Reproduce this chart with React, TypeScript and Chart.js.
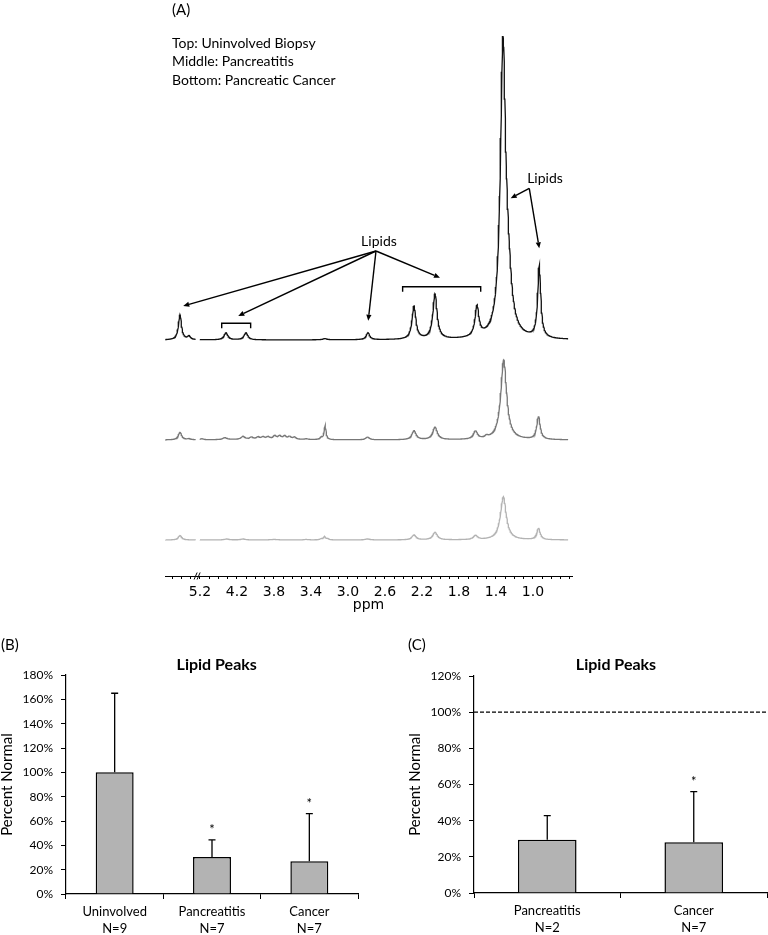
import React, { useEffect, useRef } from "react";
import { Chart, registerables } from "chart.js";

Chart.register(...registerables);

const FONT = "Lato, 'Open Sans', sans-serif";
const AXIS_FONT = "'DejaVu Sans', Verdana, sans-serif";

// ---------------- Panel A : 1H spectra ----------------
// x values are display ppm (the 5.x region is shifted by the axis break)
const PPM_TICK_LABELS = ["5.2", "4.2", "3.8", "3.4", "3.0", "2.6", "2.2", "1.8", "1.4", "1.0"];
const PPM_TICK_POS = [4.6, 4.2, 3.8, 3.4, 3.0, 2.6, 2.2, 1.8, 1.4, 1.0];
const AXIS_MIN = 0.578;
const AXIS_MAX = 4.978;
const TRACE_START = 4.975;
const TRACE_END = 0.62;
const BREAK_FROM = 4.6;
const BREAK_TO = 4.645;
const BREAK_MARK_PPM = 4.62;

const TOP_BASE = 236;
const MID_BASE = 136;
const BOT_BASE = 36;

const TOP_PEAK_PPM = [4.816, 4.719, 4.319, 4.103, 3.249, 2.784, 2.286, 2.059, 1.605, 1.324, 1.27, 0.932];
const TOP_PEAK_HEIGHT = [25, 3.5, 7, 7, 1.2, 7, 33, 45, 30, 285, 45, 72];
const TOP_PEAK_WIDTH = [0.02, 0.02, 0.025, 0.025, 0.03, 0.022, 0.025, 0.027, 0.025, 0.034, 0.045, 0.02];

const MID_PEAK_PPM = [4.816, 4.719, 4.58, 4.33, 4.135, 4.045, 3.973, 3.919, 3.865, 3.793, 3.739, 3.685, 3.632, 3.578, 3.452, 3.29, 3.247, 2.789, 2.286, 2.059, 1.622, 1.503, 1.316, 0.94, 3.84];
const MID_PEAK_HEIGHT = [7.5, 1, 1, 2, 3, 2, 2, 2, 2, 3, 3, 3, 2.5, 2, 0.7, 2, 14, 2.7, 9, 12.5, 8, 2, 80, 23, 1];
const MID_PEAK_WIDTH = [0.022, 0.02, 0.02, 0.03, 0.025, 0.02, 0.02, 0.02, 0.02, 0.02, 0.02, 0.02, 0.02, 0.02, 0.02, 0.015, 0.012, 0.025, 0.027, 0.03, 0.027, 0.02, 0.038, 0.022, 0.3];

const BOT_PEAK_PPM = [4.816, 4.311, 4.135, 3.8, 3.452, 3.29, 3.254, 3.218, 2.789, 2.286, 2.059, 1.622, 1.32, 0.94];
const BOT_PEAK_HEIGHT = [4.5, 1, 1, 0.5, 0.5, 1, 3, 1.2, 1, 5, 7.5, 4.2, 43, 11.5];
const BOT_PEAK_WIDTH = [0.022, 0.03, 0.03, 0.05, 0.03, 0.02, 0.015, 0.015, 0.03, 0.027, 0.03, 0.027, 0.038, 0.022];

const LEGEND_LINES = ["Top: Uninvolved Biopsy", "Middle: Pancreatitis", "Bottom: Pancreatic Cancer"];

const LIPID_LABEL_PPM = [2.665, 0.87];
const LIPID_LABEL_Y = [335, 398];
const ARROW_FROM_PPM = [2.697, 2.697, 2.697, 2.697, 1.04, 1.04];
const ARROW_FROM_Y = [325, 325, 325, 325, 387.7, 387.7];
const ARROW_TO_PPM = [4.781, 4.186, 2.781, 2.005, 1.241, 0.932];
const ARROW_TO_Y = [270, 260, 255.3, 298.3, 377.7, 327.7];
const BRACKET_FROM_PPM = [4.365, 2.409];
const BRACKET_TO_PPM = [4.052, 1.565];
const BRACKET_Y = [252.7, 289.3];

// ---------------- Panel B ----------------
const B_CATEGORIES = [["Uninvolved", "N=9"], ["Pancreatitis", "N=7"], ["Cancer", "N=7"]];
const B_VALUES = [100, 30.5, 27];
const B_ERRORS = [65, 14, 39];
const B_SIG = [false, true, true];
const B_Y_MAX = 180;

// ---------------- Panel C ----------------
const C_CATEGORIES = [["Pancreatitis", "N=2"], ["Cancer", "N=7"]];
const C_VALUES = [29.4, 28.1];
const C_ERRORS = [13.4, 28];
const C_SIG = [false, true];
const C_Y_MAX = 120;
const C_REFERENCE = 100;

const Y_STEP = 20;

function spectrum(base: number, pos: number[], h: number[], w: number[]) {
  const pts: { x: number; y: number | null }[] = [];
  const step = 0.004;
  for (let u = TRACE_END; u <= TRACE_START + 1e-9; u += step) {
    if (u > BREAK_FROM && u < BREAK_TO) {
      pts.push({ x: u, y: null });
      continue;
    }
    let y = base;
    for (let i = 0; i < pos.length; i++) {
      const d = (u - pos[i]) / w[i];
      y += h[i] / (1 + d * d);
    }
    pts.push({ x: u, y });
  }
  return pts;
}

function drawArrow(ctx: CanvasRenderingContext2D, x1: number, y1: number, x2: number, y2: number) {
  const a = Math.atan2(y2 - y1, x2 - x1);
  const len = 6;
  const hw = 2.6;
  const bx = x2 - len * Math.cos(a);
  const by = y2 - len * Math.sin(a);
  ctx.beginPath();
  ctx.moveTo(x1, y1);
  ctx.lineTo(bx, by);
  ctx.stroke();
  ctx.beginPath();
  ctx.moveTo(x2, y2);
  ctx.lineTo(bx + hw * Math.sin(a), by - hw * Math.cos(a));
  ctx.lineTo(bx - hw * Math.sin(a), by + hw * Math.cos(a));
  ctx.closePath();
  ctx.fill();
}

const spectrumDecor = {
  id: "spectrumDecor",
  afterDraw(chart: any) {
    const ctx: CanvasRenderingContext2D = chart.ctx;
    const xs = chart.scales.x;
    const ys = chart.scales.y;
    const X = (v: number) => xs.getPixelForValue(v);
    const Y = (v: number) => ys.getPixelForValue(v);
    ctx.save();
    ctx.fillStyle = "#000";
    ctx.strokeStyle = "#000";
    ctx.textBaseline = "middle";
    ctx.textAlign = "left";
    ctx.font = `15px ${FONT}`;
    ctx.fillText("(A)", 172, 10);
    ctx.font = `14px ${FONT}`;
    LEGEND_LINES.forEach((t, i) => ctx.fillText(t, 172, 43 + i * 18.7));
    // Lipids labels
    ctx.textAlign = "center";
    LIPID_LABEL_PPM.forEach((p, i) => ctx.fillText("Lipids", X(p), Y(LIPID_LABEL_Y[i])));
    ctx.lineWidth = 1.4;
    ARROW_FROM_PPM.forEach((p, i) =>
      drawArrow(ctx, X(p), Y(ARROW_FROM_Y[i]), X(ARROW_TO_PPM[i]), Y(ARROW_TO_Y[i]))
    );
    // brackets
    BRACKET_FROM_PPM.forEach((p, i) => {
      const xa = X(p);
      const xb = X(BRACKET_TO_PPM[i]);
      const y = Y(BRACKET_Y[i]);
      ctx.beginPath();
      ctx.moveTo(xa, y + 5);
      ctx.lineTo(xa, y);
      ctx.lineTo(xb, y);
      ctx.lineTo(xb, y + 5);
      ctx.stroke();
    });
    // axis break mark
    const bx = X(BREAK_MARK_PPM);
    const by = ys.bottom;
    ctx.lineWidth = 1;
    ctx.beginPath();
    ctx.moveTo(bx - 4, by + 3.5);
    ctx.lineTo(bx - 1, by - 3.5);
    ctx.moveTo(bx - 1, by + 3.5);
    ctx.lineTo(bx + 2, by - 3.5);
    ctx.stroke();
    ctx.restore();
  },
};

function textPlugin(items: { text: string; x: number; y: number; font: string; align: CanvasTextAlign }[]) {
  return {
    id: "texts",
    afterDraw(chart: any) {
      const ctx: CanvasRenderingContext2D = chart.ctx;
      ctx.save();
      ctx.fillStyle = "#000";
      ctx.textBaseline = "middle";
      items.forEach((it) => {
        ctx.font = it.font;
        ctx.textAlign = it.align;
        ctx.fillText(it.text, it.x, it.y);
      });
      ctx.restore();
    },
  };
}

function errorBarPlugin(errors: number[], sig: boolean[]) {
  return {
    id: "errbars",
    afterDatasetsDraw(chart: any) {
      const ctx: CanvasRenderingContext2D = chart.ctx;
      const meta = chart.getDatasetMeta(0);
      const ys = chart.scales.y;
      const vals = chart.data.datasets[0].data as number[];
      ctx.save();
      ctx.strokeStyle = "#000";
      ctx.fillStyle = "#000";
      ctx.lineWidth = 1.3;
      meta.data.forEach((bar: any, i: number) => {
        const x = bar.x;
        const y0 = ys.getPixelForValue(vals[i]);
        const y1 = ys.getPixelForValue(vals[i] + errors[i]);
        ctx.beginPath();
        ctx.moveTo(x, y0);
        ctx.lineTo(x, y1);
        ctx.moveTo(x - 3.5, y1);
        ctx.lineTo(x + 3.5, y1);
        ctx.stroke();
        if (sig[i]) {
          ctx.font = `13px ${FONT}`;
          ctx.textAlign = "center";
          ctx.textBaseline = "alphabetic";
          ctx.fillText("*", x, y1 - 6);
        }
      });
      ctx.restore();
    },
  };
}

function referencePlugin(value: number) {
  return {
    id: "refline",
    afterDatasetsDraw(chart: any) {
      const ctx: CanvasRenderingContext2D = chart.ctx;
      const ys = chart.scales.y;
      const y = ys.getPixelForValue(value);
      ctx.save();
      ctx.strokeStyle = "#000";
      ctx.lineWidth = 1.2;
      ctx.setLineDash([4, 2]);
      ctx.beginPath();
      ctx.moveTo(chart.chartArea.left, y);
      ctx.lineTo(chart.chartArea.right, y);
      ctx.stroke();
      ctx.restore();
    },
  };
}

function spectrumConfig(): any {
  const minorTicks: number[] = [];
  for (let k = 6; k <= 49; k++) minorTicks.push(k / 10);
  const labelFor = (v: number) => {
    const i = PPM_TICK_POS.findIndex((p) => Math.abs(p - v) < 1e-6);
    return i >= 0 ? PPM_TICK_LABELS[i] : "";
  };
  const ds = (data: any[], color: string) => ({
    data,
    borderColor: color,
    borderWidth: 1.3,
    pointRadius: 0,
    tension: 0,
    fill: false,
    spanGaps: false,
  });
  return {
    type: "line",
    data: {
      datasets: [
        ds(spectrum(TOP_BASE, TOP_PEAK_PPM, TOP_PEAK_HEIGHT, TOP_PEAK_WIDTH), "#111111"),
        ds(spectrum(MID_BASE, MID_PEAK_PPM, MID_PEAK_HEIGHT, MID_PEAK_WIDTH), "#777777"),
        ds(spectrum(BOT_BASE, BOT_PEAK_PPM, BOT_PEAK_HEIGHT, BOT_PEAK_WIDTH), "#b3b3b3"),
      ],
    },
    options: {
      responsive: false,
      animation: false,
      devicePixelRatio: 1,
      layout: { padding: { left: 165, right: 196, top: 26, bottom: 0 } },
      plugins: { legend: { display: false }, tooltip: { enabled: false } },
      scales: {
        x: {
          type: "linear",
          reverse: true,
          min: AXIS_MIN,
          max: AXIS_MAX,
          afterBuildTicks: (s: any) => {
            s.ticks = minorTicks.map((v) => ({ value: v }));
          },
          afterFit: (s: any) => {
            s.height = 44;
          },
          ticks: {
            autoSkip: false,
            maxRotation: 0,
            color: "#000",
            font: { family: AXIS_FONT, size: 14 },
            padding: 5,
            callback: (v: number) => labelFor(v),
          },
          grid: { display: true, drawOnChartArea: false, drawTicks: true, tickLength: 3, color: "#000", lineWidth: 1 },
          border: { display: true, color: "#000", width: 1 },
          title: {
            display: true,
            text: "ppm",
            color: "#000",
            font: { family: AXIS_FONT, size: 14 },
            padding: { top: 0, bottom: 6 },
          },
        },
        y: { display: false, min: 0, max: 550 },
      },
    },
    plugins: [spectrumDecor],
  };
}

function barConfig(
  categories: string[][],
  values: number[],
  errors: number[],
  sig: boolean[],
  yMax: number,
  barPct: number,
  padLeft: number,
  padRight: number,
  padTop: number,
  xHeight: number,
  texts: any[],
  extra: any[]
): any {
  return {
    type: "bar",
    data: {
      labels: categories,
      datasets: [
        {
          data: values,
          backgroundColor: "#b3b3b3",
          borderColor: "#000",
          borderWidth: 1.5,
          barPercentage: barPct,
          categoryPercentage: 1,
        },
      ],
    },
    options: {
      responsive: false,
      animation: false,
      devicePixelRatio: 1,
      layout: { padding: { left: padLeft, right: padRight, top: padTop, bottom: 0 } },
      plugins: { legend: { display: false }, tooltip: { enabled: false } },
      scales: {
        x: {
          grid: { display: true, drawOnChartArea: false, drawTicks: true, tickLength: 5, color: "#000", lineWidth: 1 },
          border: { display: true, color: "#000", width: 1.2 },
          ticks: {
            color: "#000",
            font: { family: FONT, size: 13, lineHeight: 1.25 },
            padding: 5,
            maxRotation: 0,
            autoSkip: false,
          },
          afterFit: (s: any) => {
            s.height = xHeight;
          },
        },
        y: {
          min: 0,
          max: yMax,
          ticks: {
            stepSize: Y_STEP,
            callback: (v: number) => v + "%",
            color: "#000",
            font: { family: FONT, size: 12 },
            padding: 8,
          },
          grid: { display: true, drawOnChartArea: false, drawTicks: true, tickLength: 5, color: "#000", lineWidth: 1 },
          border: { display: true, color: "#000", width: 1.2 },
          title: {
            display: true,
            text: "Percent Normal",
            color: "#000",
            font: { family: FONT, size: 15, lineHeight: 1 },
            padding: 0,
          },
          afterFit: (s: any) => {
            s.width = 66;
          },
        },
      },
    },
    plugins: [errorBarPlugin(errors, sig), textPlugin(texts), ...extra],
  };
}

function ChartCanvas(props: { left: number; top: number; width: number; height: number; make: () => any }) {
  const ref = useRef<HTMLCanvasElement | null>(null);
  useEffect(() => {
    const chart = new Chart(ref.current as HTMLCanvasElement, props.make());
    return () => chart.destroy();
  }, []);
  return (
    <canvas
      ref={ref}
      width={props.width}
      height={props.height}
      style={{ position: "absolute", left: props.left, top: props.top, width: props.width, height: props.height }}
    />
  );
}

export default function App() {
  return (
    <div style={{ position: "absolute", left: 0, top: 0, width: 768, height: 935, background: "#fff", overflow: "hidden" }}>
      <ChartCanvas left={0} top={0} width={768} height={620} make={spectrumConfig} />
      <ChartCanvas
        left={0}
        top={630}
        width={380}
        height={305}
        make={() =>
          barConfig(B_CATEGORIES, B_VALUES, B_ERRORS, B_SIG, B_Y_MAX, 0.39, 0, 22, 45, 41, [
            { text: "(B)", x: 1, y: 15, font: `15px ${FONT}`, align: "left" },
            { text: "Lipid Peaks", x: 216.7, y: 35, font: `bold 16px ${FONT}`, align: "center" },
          ], [])
        }
      />
      <ChartCanvas
        left={380}
        top={630}
        width={388}
        height={305}
        make={() =>
          barConfig(C_CATEGORIES, C_VALUES, C_ERRORS, C_SIG, C_Y_MAX, 0.4, 28, 1, 46, 42, [
            { text: "(C)", x: 28, y: 15, font: `15px ${FONT}`, align: "left" },
            { text: "Lipid Peaks", x: 236, y: 35, font: `bold 16px ${FONT}`, align: "center" },
          ], [referencePlugin(C_REFERENCE)])
        }
      />
    </div>
  );
}
